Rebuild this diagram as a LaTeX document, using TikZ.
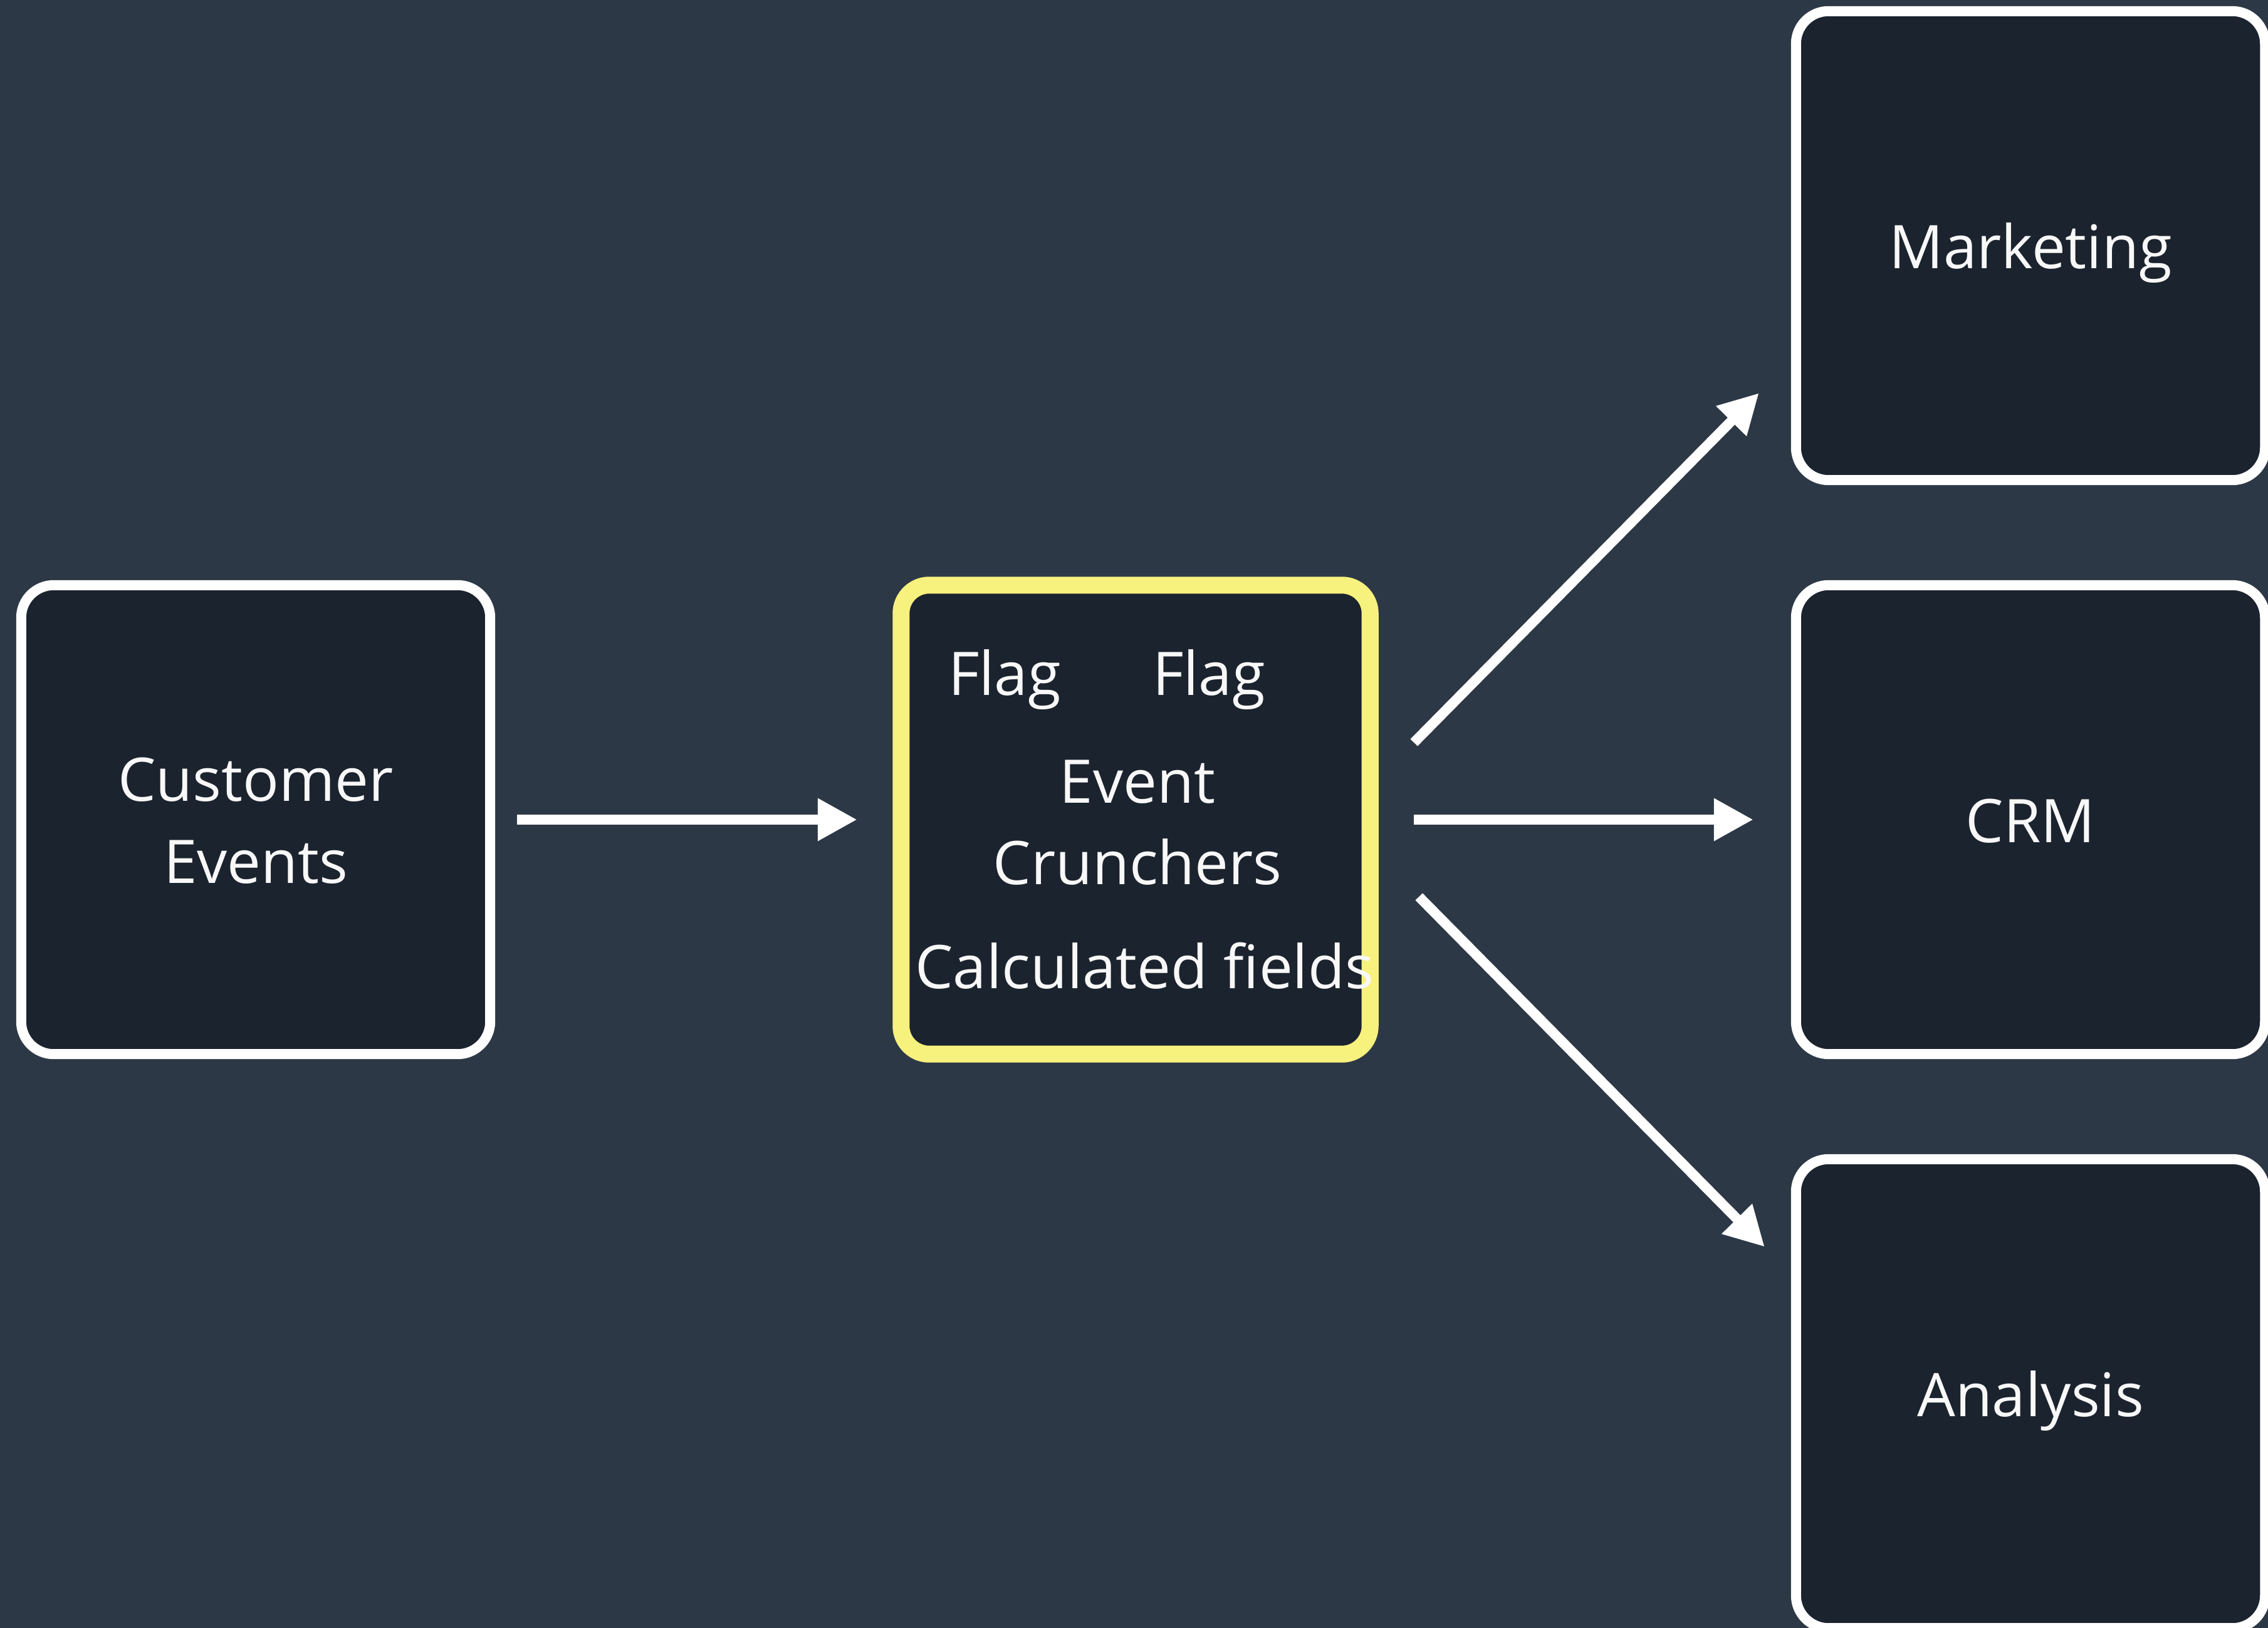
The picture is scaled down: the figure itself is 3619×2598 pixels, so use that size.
\documentclass[tikz,border=0pt]{standalone}
\usepackage{fontspec}
\setmainfont{Open Sans}[Ligatures=NoCommon]
\usetikzlibrary{arrows.meta,calc}
\definecolor{bgc}{RGB}{45,56,70}
\definecolor{boxc}{RGB}{27,35,46}
\definecolor{yel}{RGB}{247,241,126}
\definecolor{txt}{RGB}{248,248,248}
\newcommand\lblfont{\fontsize{27.3}{37}\selectfont}
\begin{document}
\begin{tikzpicture}[x=0.01cm,y=-0.01cm,
  box/.style={draw=white, line width=0.16cm, fill=boxc, rounded corners=0.52cm,
    minimum width=7.48cm, minimum height=7.48cm, inner sep=0pt, outer sep=0pt,
    text=txt, align=center, text height=0.72cm, text depth=0cm, font=\lblfont},
  twoline/.style={text height=2.02cm},
  hibox/.style={box, draw=yel, line width=0.27cm, rounded corners=0.45cm},
  lbl/.style={text=txt, font=\lblfont, inner sep=0pt, anchor=base},
  arr/.style={draw=white, line width=0.16cm, -{Triangle[length=0.63cm,width=0.64cm]}}]
\useasboundingbox (0,0) rectangle (3619,2598);
\fill[bgc] (0,0) rectangle (3619,2598);

\node[box, twoline] (ce) at (408,1308) {Customer\\Events};
\node[hibox] (mid) at (1812,1308) {};
\node[lbl] (flagA) at (1603,1109) {Flag};
\node[lbl] (flagB) at (1929,1109) {Flag};
\node[lbl] (ev) at (1815,1281) {Event};
\node[lbl] (cr) at (1815,1411) {Crunchers};
\node[lbl] (cf) at (1826,1577) {Calculated fields};

\node[box] (mkt) at (3240,392) {Marketing};
\node[box] (crm) at (3240,1308) {CRM};
\node[box] (ana) at (3240,2224) {Analysis};

\draw[arr] ($(ce.east)+(43,0)$) -- ($(mid.west)+(-70,0)$);
\draw[arr] ($(mid.east)+(70,0)$) -- ($(crm.west)+(-68,0)$);
\draw[arr] ($(mid.east)+(70,-123)$) -- ($(mkt.south west)+(-59,-139)$);
\draw[arr] ($(mid.east)+(78,123)$) -- ($(ana.north west)+(-50,140)$);
\end{tikzpicture}
\end{document}
